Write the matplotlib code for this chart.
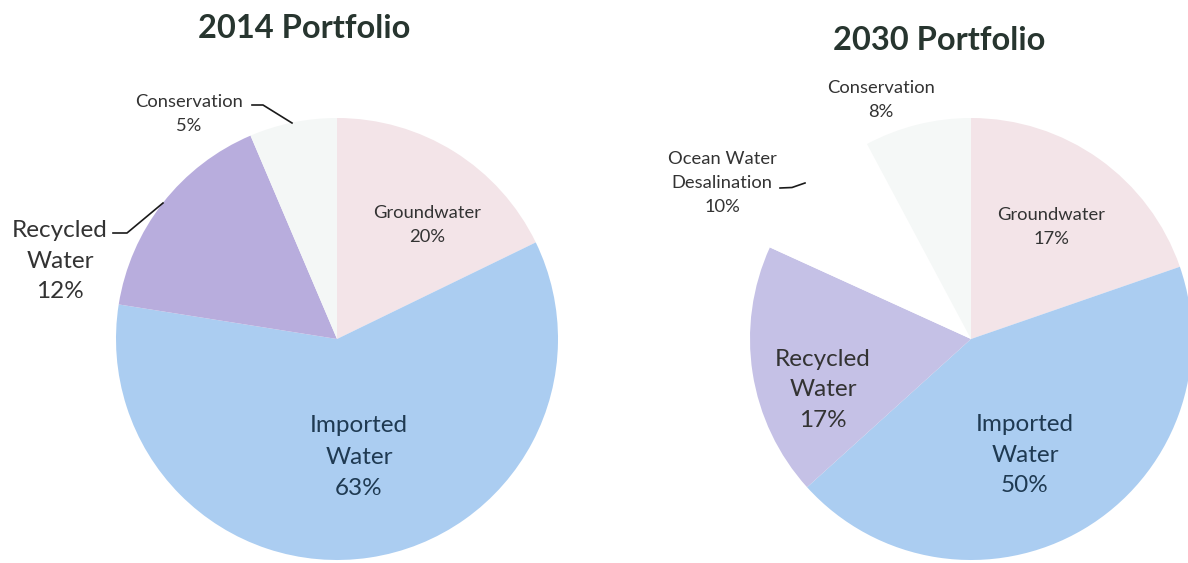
import matplotlib
matplotlib.use("Agg")
import matplotlib.pyplot as plt

# ---- data ----
titles = ["2014 Portfolio", "2030 Portfolio"]

cats_2014 = ["Groundwater", "Imported Water", "Recycled Water", "Conservation"]
label_pct_2014 = [20, 63, 12, 5]
# wedge sizes as drawn in the reference (percent of circle)
wedge_2014 = [17.8, 59.7, 16.1, 6.4]

cats_2030 = ["Groundwater", "Imported Water", "Recycled Water",
             "Ocean Water Desalination", "Conservation"]
label_pct_2030 = [17, 50, 17, 10, 8]
wedge_2030 = [19.7, 43.6, 18.5, 10.4, 7.8]

colors_2014 = ["#f3e4e8", "#abcdf1", "#b8addd", "#f4f7f6"]
colors_2030 = ["#f3e4e8", "#abcdf1", "#c5c1e6", "#ffffff", "#f5f8f7"]

W, H = 1188, 563
FONT = ["Lato", "DejaVu Sans"]
plt.rcParams["font.family"] = FONT

fig = plt.figure(figsize=(W / 100, H / 100), dpi=100)
fig.patch.set_facecolor("white")
ax = fig.add_axes([0, 0, 1, 1])


def Y(y):
    return H - y


R = 221
ax.pie(wedge_2014, colors=colors_2014, startangle=90, counterclock=False,
       center=(337, Y(339)), radius=R, wedgeprops=dict(linewidth=0))
ax.pie(wedge_2030, colors=colors_2030, startangle=90, counterclock=False,
       center=(971, Y(339)), radius=R, wedgeprops=dict(linewidth=0))

ax.set_xlim(0, W)
ax.set_ylim(0, H)
ax.set_aspect("equal")
ax.axis("off")

title_col = "#27352f"
lab_col = "#333333"
imp_col = "#1f3a52"

ax.text(304, Y(28), titles[0], ha="center", va="center", fontsize=23.5,
        fontweight="bold", color=title_col)
ax.text(939, Y(40), titles[1], ha="center", va="center", fontsize=23.5,
        fontweight="bold", color=title_col)

small = 13.2
big = 17.5


def lab(x, y, txt, fs, col=lab_col, ls=1.25):
    ax.text(x, Y(y), txt, ha="center", va="center", fontsize=fs, color=col,
            linespacing=ls)


# 2014 labels
lab(427, 225, f"{cats_2014[0]}\n{label_pct_2014[0]}%", small, ls=1.62)
lab(359, 457, "Imported\nWater\n" + f"{label_pct_2014[1]}%", big, imp_col, ls=1.62)
lab(60, 261, "Recycled\nWater\n" + f"{label_pct_2014[2]}%", big, ls=1.56)
lab(189, 114, f"{cats_2014[3]}\n{label_pct_2014[3]}%", small, ls=1.62)

# 2030 labels
lab(1051, 227, f"{cats_2030[0]}\n{label_pct_2030[0]}%", small, ls=1.62)
lab(1025, 455, "Imported\nWater\n" + f"{label_pct_2030[1]}%", big, imp_col, ls=1.58)
lab(823, 390, "Recycled\nWater\n" + f"{label_pct_2030[2]}%", big, ls=1.58)
lab(722, 183, "Ocean Water\nDesalination\n" + f"{label_pct_2030[3]}%", small, ls=1.58)
lab(881, 100, f"{cats_2030[4]}\n{label_pct_2030[4]}%", small, ls=1.62)

# leader lines
lc = "#1a1a1a"
ax.plot([113, 127, 163], [Y(233), Y(233), Y(203)], color=lc, lw=1.2)
ax.plot([252, 263, 292], [Y(105), Y(105), Y(123)], color=lc, lw=1.2)
ax.plot([780, 792, 805], [Y(188), Y(187.5), Y(183)], color=lc, lw=1.2)

fig.savefig("out.png", dpi=100, facecolor="white")
